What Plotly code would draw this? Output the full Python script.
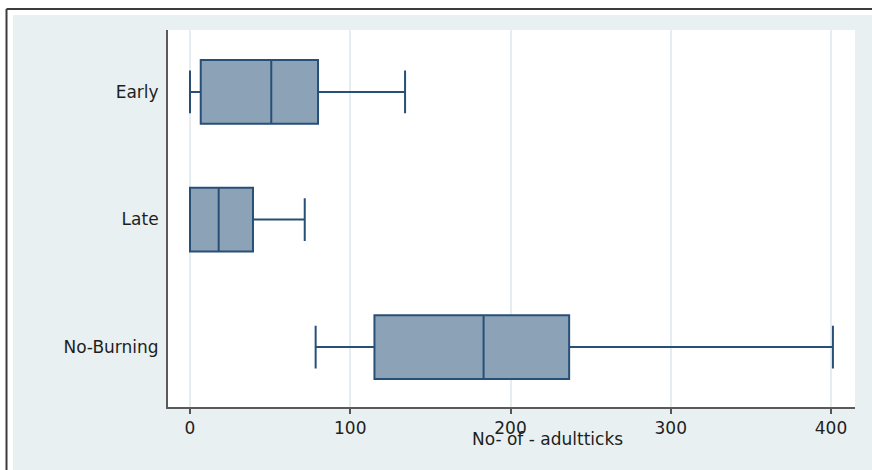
import plotly.graph_objects as go

categories = ["Early", "Late", "No-Burning"]
lower_whisker = [0, 0, 78.4]
q1_values = [6.7, 0, 115.1]
medians = [50.7, 17.9, 183.2]
q3_values = [79.9, 39.3, 236.6]
upper_whisker = [134.2, 71.6, 401.2]
x_ticks = [0, 100, 200, 300, 400]
x_title = "No- of - adultticks"

W, H = 872, 470
L, R, T, B = 168, 855, 30, 407
pw, ph = R - L, B - T
FONT = "DejaVu Sans, Liberation Sans, Arial, sans-serif"


def px(x):
    return (x - L) / pw


def py(y):
    return (B - y) / ph


fig = go.Figure()
fig.add_trace(go.Box(
    y=categories,
    q1=q1_values, median=medians, q3=q3_values,
    lowerfence=lower_whisker, upperfence=upper_whisker,
    orientation="h",
    width=0.5,
    whiskerwidth=0.67,
    fillcolor="#8ca3b7",
    line=dict(color="#274f77", width=2),
    boxpoints=False,
    showlegend=False,
    hoverinfo="skip",
))

bg = "#e9f0f2"
fig.add_shape(type="rect", xref="paper", yref="paper",
              x0=px(13), x1=px(W + 5), y0=py(15), y1=py(H + 5),
              fillcolor=bg, line=dict(width=0), layer="below")
fig.add_shape(type="rect", xref="paper", yref="paper",
              x0=0, x1=1, y0=0, y1=1,
              fillcolor="white", line=dict(width=0), layer="below")
fig.add_shape(type="line", xref="paper", yref="paper",
              x0=px(6.5), x1=px(6.5), y0=py(9), y1=py(H + 5),
              line=dict(color="#3c3c3c", width=2))
fig.add_shape(type="line", xref="paper", yref="paper",
              x0=px(6.5), x1=px(W + 5), y0=py(9), y1=py(9),
              line=dict(color="#3c3c3c", width=2))

fig.add_annotation(text=x_title, xref="paper", yref="paper",
                   x=px(547), y=py(439), xanchor="center", yanchor="middle",
                   showarrow=False,
                   font=dict(size=17, color="#1e1e1e", family=FONT))

fig.update_layout(
    width=W, height=H,
    margin=dict(l=L, r=W - R, t=T, b=H - B),
    paper_bgcolor="white",
    plot_bgcolor="white",
    font=dict(family=FONT, size=17, color="#1e1e1e"),
    xaxis=dict(
        range=[(L - 190) / 1.6025, (R - 190) / 1.6025],
        tickvals=x_ticks,
        ticktext=[str(v) for v in x_ticks],
        ticks="outside", ticklen=5, tickwidth=1.5, tickcolor="#555555",
        showline=True, linecolor="#5a5a5a", linewidth=2,
        showgrid=True, gridcolor="#e6edf1", gridwidth=1.5,
        zeroline=False,
        tickfont=dict(size=17),
    ),
    yaxis=dict(
        type="category",
        categoryorder="array", categoryarray=categories,
        range=[2.47, -0.486],
        ticks="outside", ticklen=4, tickcolor="rgba(0,0,0,0)",
        showline=True, linecolor="#5a5a5a", linewidth=2,
        showgrid=False, zeroline=False,
        tickfont=dict(size=17),
    ),
)

fig.write_html("out.html", config={"displayModeBar": False},
               post_script="document.body.style.margin='0';document.body.style.overflow='hidden';")
